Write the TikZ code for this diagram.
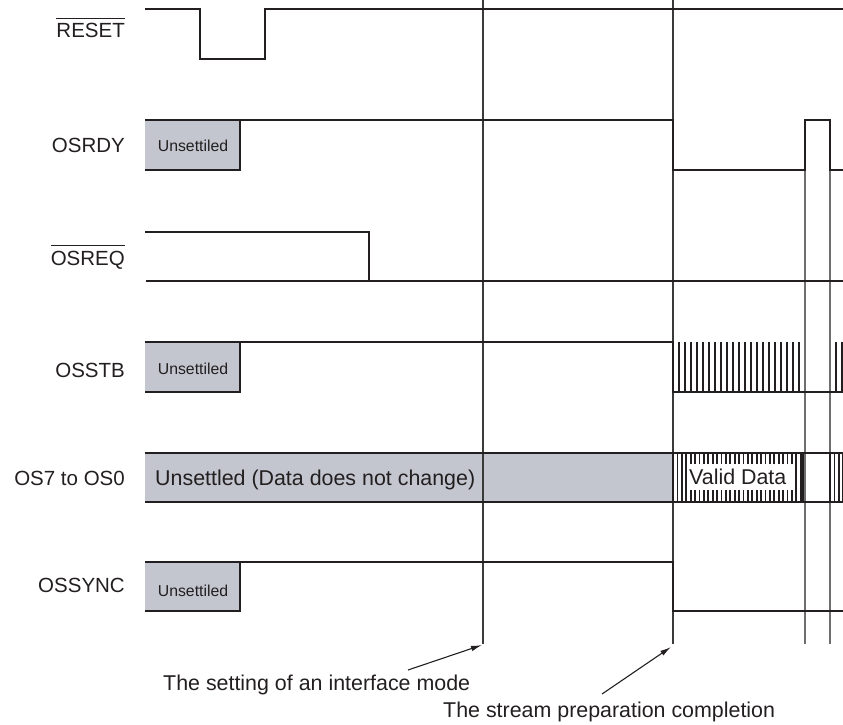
\documentclass[tikz,border=0pt]{standalone}
\usepackage{fontspec}
\setmainfont{Liberation Sans}
\usetikzlibrary{arrows.meta}
\definecolor{unset}{HTML}{C3C6CF}
\definecolor{ink}{HTML}{231F20}
\definecolor{guide}{HTML}{3A3A3A}
\definecolor{guidelt}{HTML}{6E6E6E}
% active-low signal name with a bar over it
\newcommand\barred[1]{\leavevmode\setbox0\hbox{#1}\rlap{\rule[\dimexpr\ht0+5pt\relax]{\wd0}{1.1pt}}\box0}
\begin{document}
\begin{tikzpicture}[x=1pt,y=-1pt,
  sig/.style={draw=ink,line width=2.9pt,line join=miter},
  gline/.style={draw=guide,line width=1.3pt},
  gltline/.style={draw=guidelt,line width=1.3pt},
  ptr/.style={draw=ink,line width=1.1pt,-{Latex[length=11pt,width=5.5pt]}},
  lbl/.style={inner sep=0pt,font=\fontsize{20.5}{24}\selectfont,text=ink},
  big/.style={inner sep=0pt,font=\fontsize{21.4}{25}\selectfont,text=ink},
  small/.style={inner sep=0pt,font=\fontsize{15.8}{19}\selectfont,text=ink},
  unsetbox/.style={fill=unset}]
\useasboundingbox (0,0) rectangle (843,725);

% ---- grey "unsettled" areas ----
\fill[unsetbox] (145,120) rectangle (240,170);
\fill[unsetbox] (145,342) rectangle (240,392);
\fill[unsetbox] (145,453) rectangle (673,502);
\fill[unsetbox] (145,562) rectangle (240,611);

% ---- data bus hatching (OS7 to OS0) ----
\foreach \i in {1,...,29} \fill[ink] (673+4.4*\i-0.9,453) rectangle +(1.8,49);
\foreach \i in {1,2,3} \fill[ink] (830+4.4*\i-0.9,453) rectangle +(1.8,49);
\fill[white] (688,464) rectangle (795,490);

% ---- strobe pulses (OSSTB) ----
\foreach \i in {0,...,22} \fill[ink] (673+6*\i-1.35,342) rectangle +(2.7,50);
\foreach \i in {0,1,2} \fill[ink] (830+6*\i-1.35,342) rectangle +(2.7,50);

% ---- timing reference lines ----
\coordinate (modeTop) at (483,0);
\coordinate (modeEnd) at (483,644);
\coordinate (prepTop) at (673,0);
\coordinate (prepEnd) at (673,644);
\coordinate (r1Top) at (805,170);
\coordinate (r1End) at (805,644);
\coordinate (r2Top) at (830,170);
\coordinate (r2End) at (830,644);
\draw[gline] (modeTop) -- (modeEnd);
\draw[gline] (prepTop) -- (prepEnd);
\draw[gltline] (r1Top) -- (r1End);
\draw[gltline] (r2Top) -- (r2End);

% ---- waveforms ----
% RESET
\draw[sig] (145,9) -- (200,9) -- (200,59) -- (265,59) -- (265,9) -- (843,9);
% OSRDY
\draw[sig] (145,170) -- (240,170) -- (240,120);
\draw[sig] (145,120) -- (673,120) -- (673,170) -- (805,170) -- (805,120) -- (830,120) -- (830,170) -- (843,170);
% OSREQ
\draw[sig] (145,232) -- (369,232) -- (369,281);
\draw[sig] (146,281) -- (843,281);
% OSSTB
\draw[sig] (145,392) -- (240,392) -- (240,342);
\draw[sig] (145,342) -- (673,342) -- (673,392) -- (843,392);
% OS7 to OS0
\draw[sig] (145,453) -- (843,453);
\draw[sig] (145,502) -- (843,502);
\draw[sig] (673,453) -- (673,502);
\draw[sig] (803,453) -- (803,502);
\draw[sig] (830,453) -- (830,502);
% OSSYNC
\draw[sig] (145,611) -- (240,611) -- (240,562);
\draw[sig] (145,562) -- (673,562) -- (673,611) -- (843,611);

% ---- signal names ----
\node[lbl,anchor=base east] (nReset) at (125,38) {\barred{RESET}};
\node[lbl,anchor=base east] (nRdy) at (125,152) {OSRDY};
\node[lbl,anchor=base east] (nReq) at (125,265) {\barred{OSREQ}};
\node[lbl,anchor=base east] (nStb) at (125,377) {OSSTB};
\node[lbl,anchor=base east] (nData) at (125,485) {OS7 to OS0};
\node[lbl,anchor=base east] (nSync) at (125,592) {OSSYNC};

% ---- texts inside the waveforms ----
\node[small,anchor=base] (uRdy) at (193,151) {Unsettiled};
\node[small,anchor=base] (uStb) at (193,374) {Unsettiled};
\node[small,anchor=base] (uSync) at (193,596) {Unsettiled};
\node[big,anchor=base west] (uData) at (155,485) {Unsettled (Data does not change)};
\node[big,anchor=base west] (vData) at (689,484) {Valid Data};

% ---- annotations ----
\node[big,anchor=base west] (modeTxt) at (163,690) {The setting of an interface mode};
\node[big,anchor=base west] (prepTxt) at (443,717) {The stream preparation completion};
\coordinate (modeTail) at (408,670);
\coordinate (prepTail) at (602,694);
\draw[ptr] (modeTail) -- (482,645);
\draw[ptr] (prepTail) -- (671,647);
\end{tikzpicture}
\end{document}
